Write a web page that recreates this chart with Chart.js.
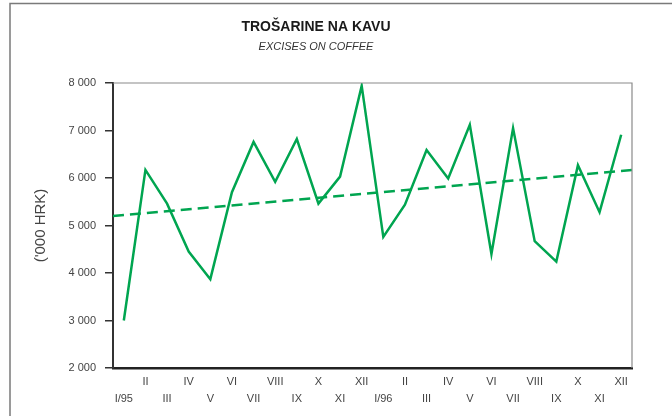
<!DOCTYPE html>
<html>
<head>
<meta charset="utf-8">
<script src="https://cdn.jsdelivr.net/npm/chart.js@4"></script>
<style>
  html, body { margin: 0; padding: 0; background: #fff; }
  #wrap { width: 672px; height: 416px; position: relative; }
</style>
</head>
<body>
<div id="wrap"><canvas id="chartCanvas"></canvas></div>
<script>
// months I/95 .. XII/96
const months = ['I/95', 'II', 'III', 'IV', 'V', 'VI', 'VII', 'VIII', 'IX', 'X', 'XI', 'XII',
                'I/96', 'II', 'III', 'IV', 'V', 'VI', 'VII', 'VIII', 'IX', 'X', 'XI', 'XII'];
// excises on coffee, '000 HRK
const excises = [3000, 6170, 5460, 4450, 3870, 5700, 6760, 5920, 6820, 5460, 6030, 7940,
                 4760, 5440, 6590, 5990, 7120, 4400, 7050, 4670, 4240, 6270, 5280, 6910];
// trend line, value at left and right edge of the plot
const trendEnds = [5200, 6170];
const yTicks = [2000, 3000, 4000, 5000, 6000, 7000, 8000];

const green = '#00a550';

// grey frame round the figure, grey top/right edge of the plot
const framePlugin = {
    id: 'frames',
    beforeDraw(chart) {
        const c = chart.ctx;
        c.save();
        c.strokeStyle = '#7a7a7a';
        c.lineWidth = 1.5;
        c.strokeRect(10, 3.5, 700, 500);
        c.restore();
    },
    afterDraw(chart) {
        const a = chart.chartArea;
        const c = chart.ctx;
        c.save();
        c.strokeStyle = '#8a8a8a';
        c.lineWidth = 1.2;
        c.beginPath();
        c.moveTo(a.left, a.top);
        c.lineTo(a.right, a.top);
        c.lineTo(a.right, a.bottom);
        c.stroke();
        c.restore();
    }
};

const ctx = document.getElementById('chartCanvas').getContext('2d');
new Chart(ctx, {
    type: 'line',
    data: {
        labels: months,
        datasets: [{
            data: excises,
            borderColor: green,
            borderWidth: 2.5,
            pointRadius: 0,
            tension: 0,
            xAxisID: 'x',
            yAxisID: 'y'
        }, {
            data: [{ x: -0.5, y: trendEnds[0] }, { x: months.length - 0.5, y: trendEnds[1] }],
            borderColor: green,
            borderWidth: 2.5,
            borderDash: [11, 6],
            pointRadius: 0,
            xAxisID: 'xt',
            yAxisID: 'y'
        }]
    },
    plugins: [framePlugin],
    options: {
        responsive: true,
        maintainAspectRatio: false,
        animation: false,
        layout: { padding: { left: 0, right: 40, top: 0, bottom: 0 } },
        plugins: {
            legend: { display: false },
            tooltip: { enabled: false },
            title: {
                display: true,
                text: 'TROŠARINE NA KAVU',
                color: '#1a1a1a',
                font: { family: 'Liberation Sans', size: 14, weight: 'bold' },
                padding: { top: 19, bottom: 0 }
            },
            subtitle: {
                display: true,
                text: 'EXCISES ON COFFEE',
                color: '#333',
                font: { family: 'Liberation Sans', size: 11, style: 'italic' },
                padding: { top: 5, bottom: 29 }
            }
        },
        scales: {
            x: {
                type: 'category',
                offset: true,
                grid: { display: false, drawTicks: false },
                border: { display: true, color: '#222', width: 2.5 },
                ticks: {
                    autoSkip: false,
                    maxRotation: 0,
                    padding: 6,
                    color: '#444',
                    font: { family: 'Liberation Sans', size: 11, lineHeight: 1.5 },
                    callback: function (value, index) {
                        const label = months[index];
                        return index % 2 === 0 ? [' ', label] : [label, ' '];
                    }
                },
                afterFit: function (scale) { scale.height = 48; }
            },
            xt: {
                type: 'linear',
                display: false,
                min: -0.5,
                max: months.length - 0.5
            },
            y: {
                min: yTicks[0],
                max: yTicks[yTicks.length - 1],
                afterBuildTicks: function (scale) {
                    scale.ticks = yTicks.map(v => ({ value: v }));
                },
                grid: { drawOnChartArea: false, drawTicks: true, tickLength: 8, color: '#333', lineWidth: 1.5 },
                border: { display: true, color: '#333', width: 2 },
                ticks: {
                    padding: 9,
                    color: '#444',
                    font: { family: 'Liberation Sans', size: 11 },
                    callback: function (value) { return (value / 1000) + ' 000'; }
                },
                title: {
                    display: true,
                    text: "('000 HRK)",
                    color: '#444',
                    font: { family: 'Liberation Sans', size: 15 },
                    padding: { top: 32, bottom: 0 }
                },
                afterFit: function (scale) { scale.width = 113; }
            }
        }
    }
});
</script>
</body>
</html>
